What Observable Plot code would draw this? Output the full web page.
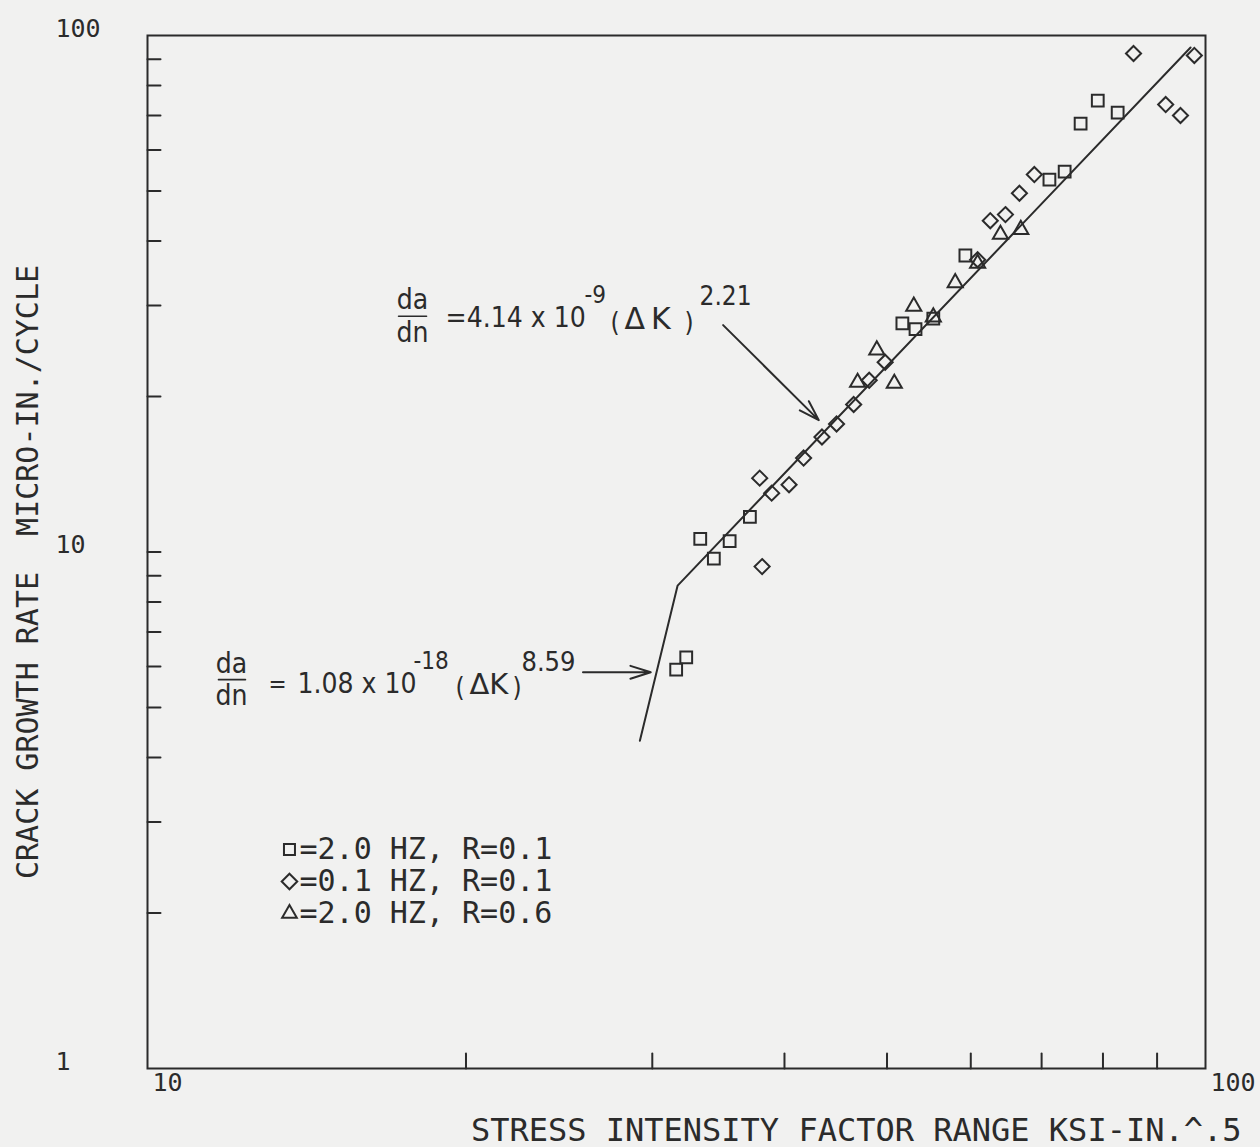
<!DOCTYPE html>
<html><head><meta charset="utf-8">
<script src="https://cdn.jsdelivr.net/npm/d3@7"></script>
<script src="https://cdn.jsdelivr.net/npm/@observablehq/plot@0.6"></script>
<style>
html,body{margin:0;padding:0;background:#f1f1f0;}
#chart svg{display:block;}
</style></head><body><div id="chart"></div>
<script>
// ---- data ----
const squareK    = [31.6, 32.3, 33.3, 34.3, 35.5, 37.1, 51.7, 53.2, 55.3, 59.3, 71.2, 73.6, 76.2, 79.1, 82.6];
const squareRate = [5.92, 6.25, 10.6, 9.71, 10.5, 11.7, 27.7, 27.0, 28.3, 37.5, 52.6, 54.5, 67.5, 74.8, 70.9];

const diamondK    = [37.9, 38.1, 38.9, 40.4, 41.7, 43.4, 44.8, 46.5, 48.1, 49.8, 60.9, 62.6, 64.7, 66.7, 68.9, 85.5, 91.7, 94.7, 97.6];
const diamondRate = [13.9, 9.37, 13.0, 13.5, 15.2, 16.7, 17.7, 19.3, 21.5, 23.3, 36.8, 43.8, 45.0, 49.5, 53.8, 92.3, 73.5, 70.0, 91.5];

const triangleK    = [46.9, 48.9, 50.8, 53.0, 55.3, 58.0, 60.9, 64.0, 66.9];
const triangleRate = [21.3, 24.6, 21.2, 29.9, 28.5, 33.2, 36.2, 41.2, 42.1];

const fitK    = [29.2, 31.7, 96.8];
const fitRate = [4.31, 8.61, 94.8];

const arrowFromK    = [35.0, 25.8];
const arrowFromRate = [27.5, 5.85];
const arrowToK      = [43.1, 29.9];
const arrowToRate   = [18.0, 5.85];

const xTickVals  = [20, 30, 40, 50, 60, 70, 80, 90];
const yTickVals  = [2, 3, 4, 5, 6, 7, 8, 9, 10, 20, 30, 40, 50, 60, 70, 80, 90];
const xTickLabels = [10, 100];
const yTickLabels = [1, 10, 100];

const xTitle = "STRESS INTENSITY FACTOR RANGE KSI-IN.^.5";
const yTitle = "CRACK GROWTH RATE  MICRO-IN./CYCLE";

const legendLabels  = ["=2.0 HZ, R=0.1", "=0.1 HZ, R=0.1", "=2.0 HZ, R=0.6"];
const legendSymbols = ["square2", "diamond2", "triangle2"];

// annotation anchors (data space)
const eqAnchorK    = [17.27, 11.67];
const eqAnchorRate = [28.6, 5.66];
const legendAnchorK = 13.65, legendAnchorRate = 2.655;

// equation parts
const eq1Parts = [
  {t: "da", dx: 14, dy: -7, size: 28, anchor: "middle"},
  {t: "dn", dx: 14, dy: 26, size: 28, anchor: "middle"},
  {t: "=4.14 x 10", dx: 47, dy: 11, size: 28, anchor: "start"},
  {t: "-9", dx: 186, dy: -13, size: 24, anchor: "start"},
  {t: "(", dx: 212, dy: 15, size: 26, anchor: "start"},
  {t: "\u0394\u2009K", dx: 226, dy: 13, size: 30, anchor: "start", wide: true},
  {t: ")", dx: 286, dy: 15, size: 26, anchor: "start"},
  {t: "2.21", dx: 301, dy: -11, size: 26, anchor: "start"}
];
const eq2Parts = [
  {t: "da", dx: 13, dy: -7, size: 28, anchor: "middle"},
  {t: "dn", dx: 13, dy: 25, size: 28, anchor: "middle"},
  {t: "=", dx: 50, dy: 12, size: 24, anchor: "start"},
  {t: "1.08 x 10", dx: 79, dy: 13, size: 28, anchor: "start"},
  {t: "-18", dx: 195, dy: -11, size: 24, anchor: "start"},
  {t: "(", dx: 237, dy: 16, size: 26, anchor: "start"},
  {t: "\u0394K", dx: 251, dy: 14, size: 29, anchor: "start", wide: true},
  {t: ")", dx: 294, dy: 16, size: 26, anchor: "start"},
  {t: "8.59", dx: 303, dy: -9, size: 27, anchor: "start"}
];

// ---- build tables ----
const zip = (ks, rs) => ks.map((k, i) => ({k, rate: rs[i]}));
const squares = zip(squareK, squareRate);
const diamonds = zip(diamondK, diamondRate);
const triangles = zip(triangleK, triangleRate);
const fit = zip(fitK, fitRate);
const arrows = arrowFromK.map((k, i) => ({x1: k, y1: arrowFromRate[i], x2: arrowToK[i], y2: arrowToRate[i]}));

const ink = "#2b2b2b";
const mono = "'DejaVu Sans Mono', 'Liberation Mono', monospace";
const narrow = "'Liberation Sans Narrow', 'DejaVu Sans Condensed', 'DejaVu Sans', sans-serif";
const wideSans = "'DejaVu Sans', 'Noto Sans', sans-serif";
const tickShape = {draw(context, l) { context.moveTo(0, 0); context.lineTo(0, -l); }};

const eqMarks = [];
[eq1Parts, eq2Parts].forEach((parts, e) => {
  const pt = [{k: eqAnchorK[e], rate: eqAnchorRate[e]}];
  parts.forEach(p => {
    eqMarks.push(Plot.text(pt, {x: "k", y: "rate", text: () => p.t, dx: p.dx, dy: p.dy,
      textAnchor: p.anchor, lineAnchor: "bottom", fontSize: p.size,
      fontFamily: p.wide ? wideSans : narrow,
      fill: ink, fontStretch: p.wide ? "normal" : "condensed"}));
  });
  // fraction bar
  eqMarks.push(Plot.vector(pt, {x: "k", y: "rate", rotate: 90, length: e === 0 ? 28 : 27, anchor: "start",
    shape: tickShape, stroke: ink, strokeWidth: 1.6}));
});

const legendMarks = [];
legendLabels.forEach((lab, i) => {
  const pt = [{k: legendAnchorK, rate: legendAnchorRate}];
  legendMarks.push(Plot.dot(pt, {x: "k", y: "rate", symbol: legendSymbols[i], r: 7, dx: -1, dy: i * 32,
    stroke: ink, strokeWidth: 2, fill: "none"}));
  legendMarks.push(Plot.text(pt, {x: "k", y: "rate", text: () => lab, dx: 9, dy: i * 32,
    textAnchor: "start", fontSize: 30, fontFamily: mono, fill: ink}));
});

const chart = Plot.plot({
  width: 1260,
  height: 1147,
  marginLeft: 147,
  marginRight: 55,
  marginTop: 35,
  marginBottom: 79,
  style: {background: "#f1f1f0", color: ink},
  x: {type: "log", domain: [10, 100], axis: null},
  y: {type: "log", domain: [1, 100], axis: null},
  marks: [
    Plot.frame({stroke: ink, strokeWidth: 2}),
    Plot.vector(yTickVals, {y: d => d, frameAnchor: "left", rotate: 90, length: 13, anchor: "start",
      shape: tickShape, stroke: ink, strokeWidth: 2}),
    Plot.vector(xTickVals, {x: d => d, frameAnchor: "bottom", rotate: 0, length: 15, anchor: "start",
      shape: tickShape, stroke: ink, strokeWidth: 2}),
    Plot.text(yTickLabels, {y: d => d, frameAnchor: "left", text: d => String(d), textAnchor: "start",
      dx: -92, dy: -7, fontSize: 25, fontFamily: mono, fill: ink}),
    Plot.text(xTickLabels, {x: d => d, frameAnchor: "bottom", text: d => String(d), textAnchor: "start",
      dx: 5, dy: 22, fontSize: 25, fontFamily: mono, fill: ink}),
    Plot.text([yTitle], {text: d => d, frameAnchor: "left", textAnchor: "middle", rotate: -90, dx: -119, dy: 20,
      fontSize: 30, fontFamily: mono, fill: ink}),
    Plot.text([xTitle], {text: d => d, frameAnchor: "bottom-right", textAnchor: "end", dx: 36, dy: 72,
      fontSize: 32, fontFamily: mono, fill: ink}),
    Plot.line(fit, {x: "k", y: "rate", stroke: ink, strokeWidth: 2}),
    Plot.arrow(arrows, {x1: "x1", y1: "y1", x2: "x2", y2: "y2", stroke: ink, strokeWidth: 2,
      headLength: 16, headAngle: 35}),
    Plot.dot(squares, {x: "k", y: "rate", symbol: "square2", r: 7.5, stroke: ink, strokeWidth: 2, fill: "none"}),
    Plot.dot(diamonds, {x: "k", y: "rate", symbol: "diamond2", r: 6.8, stroke: ink, strokeWidth: 2, fill: "none"}),
    Plot.dot(triangles, {x: "k", y: "rate", symbol: "triangle2", r: 7.2, stroke: ink, strokeWidth: 2, fill: "none"}),
    ...eqMarks,
    ...legendMarks
  ]
});
document.getElementById("chart").appendChild(chart);
</script></body></html>
